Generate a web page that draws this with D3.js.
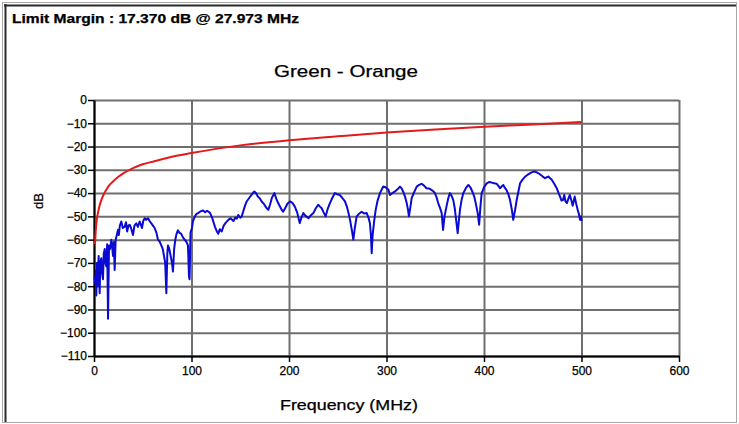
<!DOCTYPE html>
<html>
<head>
<meta charset="utf-8">
<script src="https://cdn.jsdelivr.net/npm/d3@7"></script>
<style>
  html, body { margin: 0; padding: 0; background: #fff; }
  svg { display: block; }
  text { font-family: "Liberation Sans", Arial, sans-serif; fill: #000; stroke: #000; stroke-width: 0.25px; }
</style>
</head>
<body>
<svg id="chart" width="739" height="424"></svg>
<script>
// ---------------- DATA ----------------
const headerText = "Limit Margin : 17.370 dB @ 27.973 MHz";
const chartTitle = "Green - Orange";
const xAxisTitle = "Frequency (MHz)";
const yAxisTitle = "dB";

const xTicks = [0, 100, 200, 300, 400, 500, 600];
const yTicks = [0, -10, -20, -30, -40, -50, -60, -70, -80, -90, -100, -110];

// Limit line (red): [MHz, dB]
const limitLine = [
  [1, -62], [2, -55], [3, -51], [4, -48.6], [6, -45], [8, -42.5], [10, -40.5],
  [12.6, -38.6], [15, -37], [19.5, -35], [25, -33], [30, -31.5], [40, -29.3],
  [50, -27.6], [62, -26.3], [79, -24.5], [100, -22.8], [125, -21], [150, -19.5],
  [200, -17.3], [250, -15.6], [300, -14], [350, -12.7], [400, -11.5],
  [450, -10.5], [500, -9.5]
];

// Measured trace (blue): [MHz, dB]
const measured = [
  [0.5,-76],[1.4,-79],[2.0,-73],[2.4,-84],[3.0,-70],[3.5,-80],[4.0,-74],[4.8,-67],
  [5.8,-83],[6.5,-70],[7.5,-68],[8.2,-74],[9.2,-77],[10,-66],[11,-64],[11.8,-70],
  [12.6,-71.5],[13.5,-62],[14.4,-94],[15.4,-62.5],[16.5,-64],[17.8,-60],[18.6,-63],
  [19.5,-67],[20.3,-61],[21.2,-73],[22.2,-60],[23.4,-58],[24.6,-55.8],[25.5,-58],
  [26.5,-54],[28,-52.2],[29.5,-55],[31.5,-54.4],[32.8,-52.5],[34,-56.5],[35.3,-54],
  [36.6,-53.6],[38,-55],[40,-58],[41.5,-54],[43.4,-53],[45,-54.5],[46.8,-52.2],
  [48,-53.5],[49.2,-55],[50.5,-52],[52,-50.8],[53.5,-51.5],[55.4,-50.8],[57,-52],
  [58.8,-53],[60.5,-54],[62.2,-55],[64,-57],[65.6,-60],[67.5,-61],[69,-62.5],
  [70.5,-64],[71.8,-67],[73,-70],[74.2,-83],[75.2,-66],[75.9,-62.5],[77.2,-64],
  [78.6,-67],[80,-70],[81,-73.7],[82.2,-64],[83.4,-60],[84.7,-57.5],[86,-56],
  [87.5,-57],[89.5,-57.5],[91.2,-59],[93,-60],[94.8,-61],[96.4,-62.5],[97.4,-75.8],
  [98,-77],[99,-57],[100.5,-55],[101.5,-52],[103.5,-50],[105,-49],[107,-48.5],
  [109.5,-47.8],[112,-47.5],[114,-48.2],[116,-47.6],[119,-48.5],[121.5,-51],
  [124,-54.4],[126,-56.5],[127.5,-57.5],[129,-55.5],[131,-56.5],[133,-54],
  [135,-52.8],[137.8,-51.5],[140,-50.8],[143,-52],[145,-50.5],[146.5,-51],
  [148,-49.4],[150,-50.6],[151.5,-50],[153,-48],[154.8,-45.5],[156.6,-43.6],
  [159,-42.2],[161.5,-40.8],[164.4,-39.3],[166.5,-40.2],[168,-41.5],[170,-42.2],
  [172,-43.6],[174,-44.5],[176.5,-46.2],[178.8,-47.2],[180.5,-45],[182.5,-42],
  [185,-40],[187,-42.5],[189,-44.4],[191,-46],[192.5,-47.2],[194,-48],[196,-46.5],
  [198.5,-44.5],[201,-43.6],[203.5,-44.2],[206,-45.8],[208.5,-48.5],[211,-52.9],
  [212.8,-50.5],[214.7,-48.6],[217,-49.8],[220,-50.8],[222.5,-49.5],[225,-48.6],
  [227.5,-46.5],[230,-45],[231.8,-45.8],[233.5,-46.5],[235.5,-48.3],[237.6,-50],
  [239.5,-47],[242,-44.3],[244.5,-42],[247,-40],[249.5,-40.5],[252,-40.8],
  [254.5,-42],[257.4,-43.6],[259.5,-46],[261,-48.5],[262.6,-51.5],[264.5,-56],
  [266,-60],[267.5,-55],[269.4,-50],[271.5,-49],[274.5,-48],[277,-48.8],
  [279.7,-48.6],[281.5,-50.5],[283,-53],[284,-58],[284.8,-65.8],[285.8,-58],
  [287.5,-51.5],[289,-47],[291,-43],[293.5,-39.8],[296.7,-37.2],[299,-37.5],
  [302,-38.6],[303.6,-40.8],[306,-40],[308.7,-39.3],[311,-38.5],[313.8,-37.2],
  [315.5,-38],[317,-39.3],[319,-41.5],[320.7,-44.3],[322,-47],[323,-50],[324.5,-46],
  [325.8,-42.2],[328.5,-39.5],[331,-37.2],[333.5,-36.5],[336,-36],[338.5,-36.8],
  [341,-37.9],[343.5,-38],[346,-38.6],[348,-39.2],[349.7,-40],[351.5,-42],
  [353,-44.3],[355,-46.5],[356.6,-48.6],[358,-55.8],[359.5,-50],[361.7,-45.4],
  [363.5,-42],[365,-40],[366.8,-41.2],[368.5,-43],[370,-46.5],[371,-50],[372,-53.5],
  [373,-57.2],[374.2,-52],[375.4,-47],[377,-43],[378.8,-40],[381.5,-37.8],
  [384,-36.5],[386,-37.5],[388,-39.3],[390,-41.5],[391.5,-44.3],[393.5,-48.5],
  [395,-53.6],[396.3,-46],[397.6,-40],[400,-37.5],[402.8,-35.8],[405.5,-35.2],
  [408,-35.5],[410.5,-35.8],[413,-36],[415,-37],[416.4,-37.9],[418,-37.2],
  [419.8,-36.5],[421.5,-37.8],[423,-38.6],[425,-40.5],[426.7,-43],[428.5,-47],
  [430,-51.5],[431.8,-47.5],[433.5,-43],[435.2,-39.5],[437,-35.8],[439.5,-34.2],
  [442,-33],[444.5,-32.2],[447,-31.5],[449.5,-31],[452,-30.7],[454.5,-31.2],
  [457,-31.8],[460,-32.8],[462.6,-33.6],[464.3,-33.2],[466,-32.9],[467.8,-33.6],
  [469.5,-34.3],[472,-36],[474.6,-37.9],[476.3,-39.8],[478,-41.5],[479.5,-43.2],
  [481,-43],[482.3,-40.8],[483.5,-43.5],[485,-44.3],[486.5,-42.5],[488,-40.8],
  [489.5,-43],[491,-45.4],[492,-43.5],[493,-41.5],[494.5,-44.5],[496,-47],
  [497.3,-49],[498.5,-51.5],[499.5,-50],[500,-52]
];

// ---------------- LAYOUT ----------------
const W = 739, H = 424;
const plot = { left: 94, right: 679, top: 100, bottom: 356 };

const svg = d3.select("#chart");

// Outer frame
svg.append("rect")
  .attr("x", 2.5).attr("y", 2.5).attr("width", W - 5).attr("height", H - 4)
  .attr("fill", "#fff").attr("stroke", "#a8a8a8").attr("stroke-width", 1);
svg.append("line").attr("x1", 4).attr("x2", W - 3).attr("y1", 5.5).attr("y2", 5.5)
  .attr("stroke", "#2a2a2a").attr("stroke-width", 2);
svg.append("line").attr("x1", 5.5).attr("x2", 5.5).attr("y1", 4).attr("y2", H - 2)
  .attr("stroke", "#2a2a2a").attr("stroke-width", 2);

const x = d3.scaleLinear().domain([0, 600]).range([plot.left, plot.right]);
const y = d3.scaleLinear().domain([-110, 0]).range([plot.bottom, plot.top]);

// Grid
const grid = svg.append("g");
grid.append("g")
  .attr("transform", `translate(${plot.left},0)`)
  .call(d3.axisLeft(y).tickValues(yTicks).tickSize(-(plot.right - plot.left)).tickFormat(""))
  .call(g => g.select(".domain").remove())
  .call(g => g.selectAll("line").attr("stroke", "#6e6e6e").attr("stroke-width", 2));
grid.append("g")
  .attr("transform", `translate(0,${plot.bottom})`)
  .call(d3.axisBottom(x).tickValues(xTicks).tickSize(-(plot.bottom - plot.top)).tickFormat(""))
  .call(g => g.select(".domain").remove())
  .call(g => g.selectAll("line").attr("stroke", "#6e6e6e").attr("stroke-width", 2));

// Axes
svg.append("g")
  .attr("transform", `translate(${plot.left},0)`)
  .call(d3.axisLeft(y).tickValues(yTicks).tickSize(6).tickPadding(1).tickSizeOuter(0))
  .call(g => g.select(".domain").attr("stroke", "#000").attr("stroke-width", 2))
  .call(g => g.selectAll(".tick line").attr("stroke", "#000").attr("stroke-width", 1.5))
  .call(g => g.selectAll("text").attr("font-size", 12).attr("font-family", "Liberation Sans, Arial, sans-serif").attr("fill", "#000"));

svg.append("g")
  .attr("transform", `translate(0,${plot.bottom})`)
  .call(d3.axisBottom(x).tickValues(xTicks).tickSize(6).tickPadding(4).tickSizeOuter(0))
  .call(g => g.select(".domain").attr("stroke", "#000").attr("stroke-width", 2))
  .call(g => g.selectAll(".tick line").attr("stroke", "#000").attr("stroke-width", 1.5))
  .call(g => g.selectAll("text").attr("font-size", 12).attr("font-family", "Liberation Sans, Arial, sans-serif").attr("fill", "#000"));

// Lines
const line = d3.line().x(d => x(d[0])).y(d => y(d[1]));

svg.append("path").datum(measured)
  .attr("d", line).attr("fill", "none")
  .attr("stroke", "#0a0ad2").attr("stroke-width", 2).attr("stroke-linejoin", "round");

svg.append("path").datum(limitLine)
  .attr("d", line.curve(d3.curveMonotoneX)).attr("fill", "none")
  .attr("stroke", "#e41a1a").attr("stroke-width", 2);

// Texts
svg.append("text").attr("x", 12).attr("y", 23)
  .attr("font-size", 12).attr("font-weight", "bold")
  .attr("textLength", 287).attr("lengthAdjust", "spacingAndGlyphs")
  .text(headerText);

svg.append("text").attr("x", 346).attr("y", 77).attr("text-anchor", "middle")
  .attr("font-size", 16)
  .attr("textLength", 144).attr("lengthAdjust", "spacingAndGlyphs")
  .text(chartTitle);

svg.append("text").attr("x", 349).attr("y", 410).attr("text-anchor", "middle")
  .attr("font-size", 14)
  .attr("textLength", 138).attr("lengthAdjust", "spacingAndGlyphs")
  .text(xAxisTitle);

svg.append("text")
  .attr("transform", `translate(43,${(plot.top + plot.bottom) / 2 - 27}) rotate(-90)`)
  .attr("text-anchor", "middle").attr("font-size", 13)
  .text(yAxisTitle);
</script>
</body>
</html>
